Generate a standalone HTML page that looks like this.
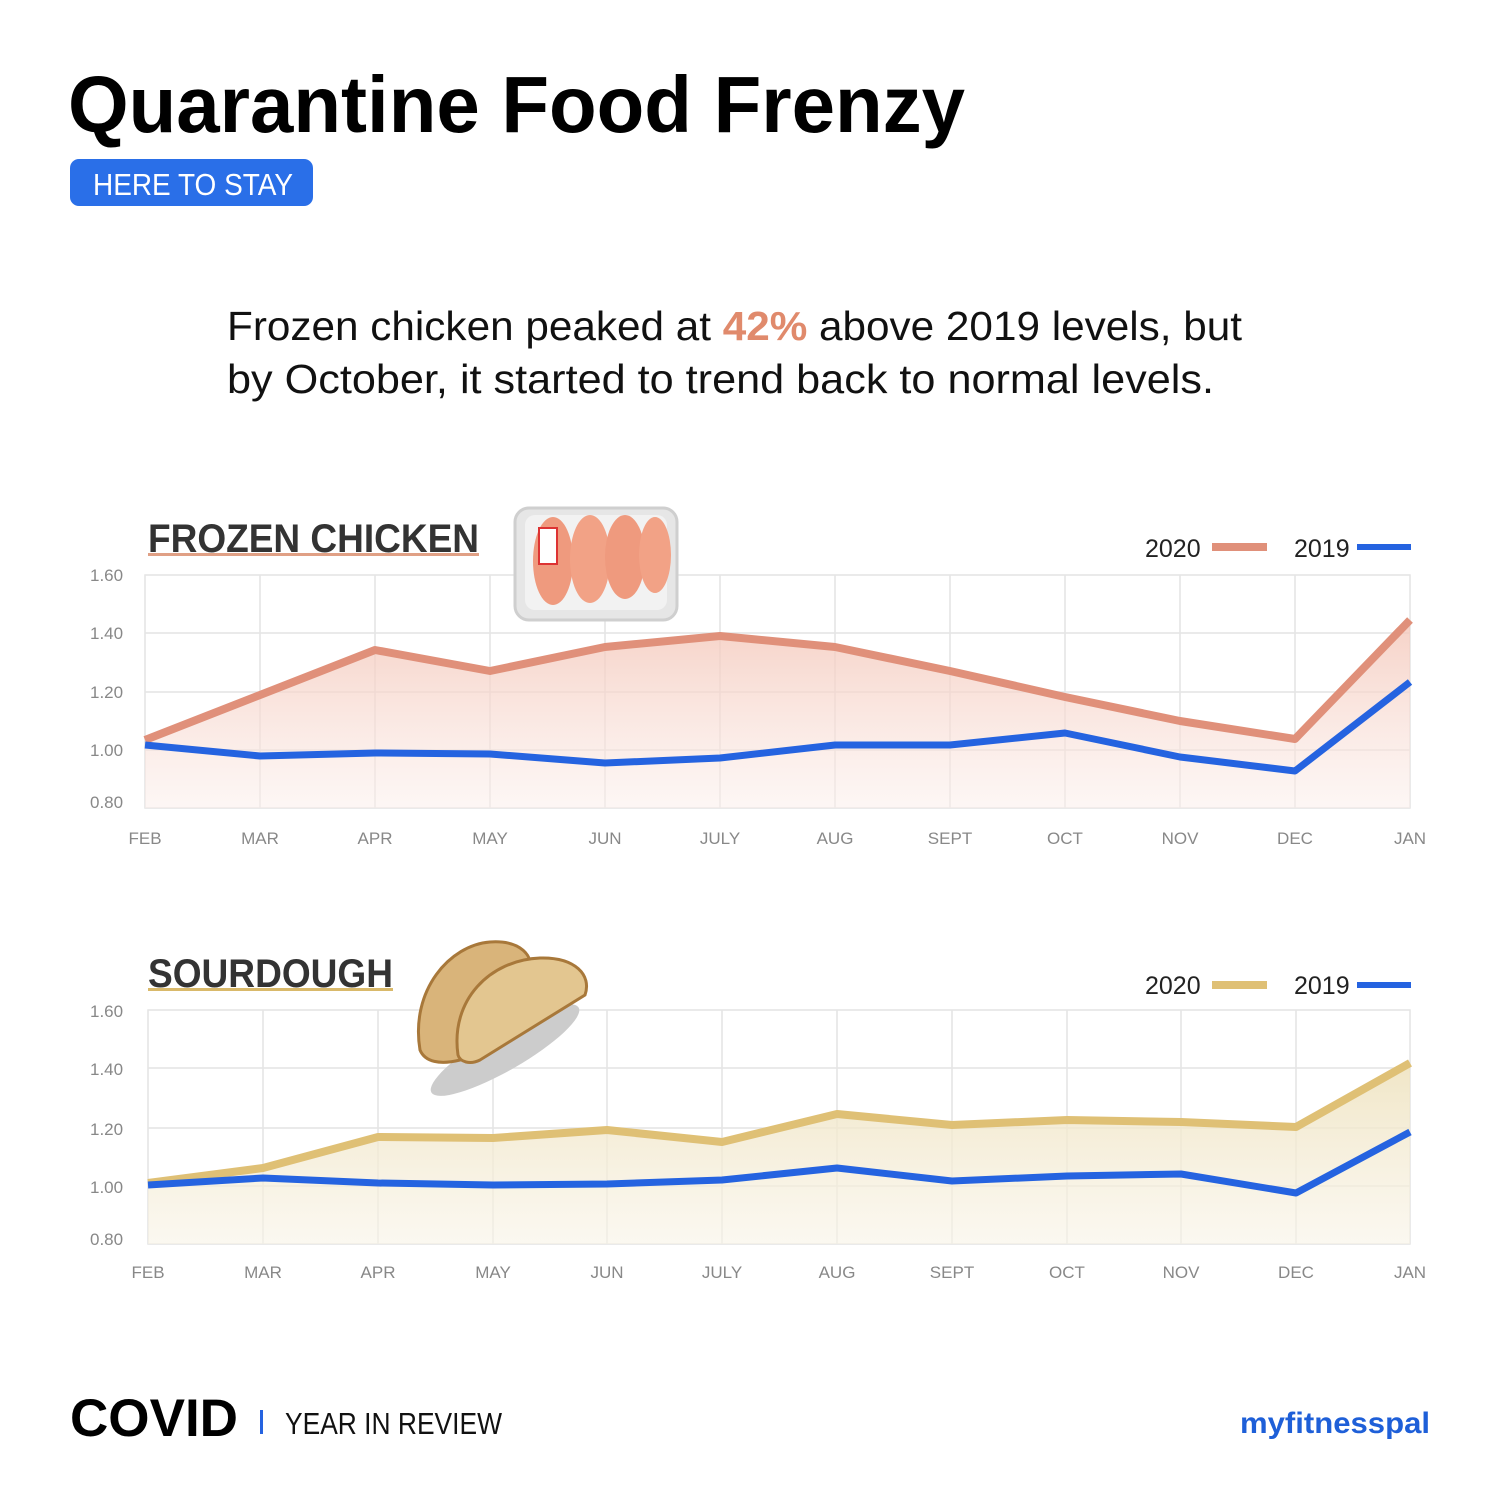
<!DOCTYPE html>
<html><head><meta charset="utf-8"><style>
html,body{margin:0;padding:0;background:#fff}
svg{display:block}
text{font-family:"Liberation Sans",sans-serif}
</style></head><body>
<svg width="1505" height="1505" viewBox="0 0 1505 1505" xmlns="http://www.w3.org/2000/svg">
<defs>
<linearGradient id="gc" x1="0" y1="0" x2="0" y2="1"><stop offset="0" stop-color="#f4c6b8" stop-opacity="0.8"/><stop offset="1" stop-color="#fbeeea" stop-opacity="0.5"/></linearGradient>
<linearGradient id="gs" x1="0" y1="0" x2="0" y2="1"><stop offset="0" stop-color="#efe3c0" stop-opacity="0.9"/><stop offset="1" stop-color="#f8f3e6" stop-opacity="0.6"/></linearGradient>
</defs>
<rect width="1505" height="1505" fill="#fff"/>
<text x="68" y="132" font-size="80" font-weight="bold" fill="#000" textLength="897" lengthAdjust="spacingAndGlyphs">Quarantine Food Frenzy</text>
<rect x="70" y="159" width="243" height="47" rx="9" fill="#2a6fe8"/>
<text x="93" y="195" font-size="31" fill="#fff" textLength="200" lengthAdjust="spacingAndGlyphs">HERE TO STAY</text>
<text x="227" y="340" font-size="41" fill="#111" textLength="1015" lengthAdjust="spacingAndGlyphs">Frozen chicken peaked at <tspan fill="#e08a6c" font-weight="bold">42%</tspan> above 2019 levels, but</text>
<text x="227" y="393" font-size="41" fill="#111" textLength="987" lengthAdjust="spacingAndGlyphs">by October, it started to trend back to normal levels.</text>

<!-- Chart 1 -->
<text x="148" y="552" font-size="40" font-weight="bold" fill="#333" textLength="331" lengthAdjust="spacingAndGlyphs">FROZEN CHICKEN</text>
<rect x="148" y="553" width="331" height="3" fill="#e0a085"/>
<g stroke="#e4e4e4" stroke-width="1.5" fill="none">
<rect x="145" y="575" width="1265" height="233"/>
<line x1="145" y1="633" x2="1410" y2="633"/><line x1="145" y1="692" x2="1410" y2="692"/><line x1="145" y1="750" x2="1410" y2="750"/>
<line x1="260" y1="575" x2="260" y2="808"/><line x1="375" y1="575" x2="375" y2="808"/><line x1="490" y1="575" x2="490" y2="808"/><line x1="605" y1="575" x2="605" y2="808"/><line x1="720" y1="575" x2="720" y2="808"/><line x1="835" y1="575" x2="835" y2="808"/><line x1="950" y1="575" x2="950" y2="808"/><line x1="1065" y1="575" x2="1065" y2="808"/><line x1="1180" y1="575" x2="1180" y2="808"/><line x1="1295" y1="575" x2="1295" y2="808"/>
</g>
<polygon fill="url(#gc)" points="145,740 260,695 375,650 490,671 605,647 720,636 835,647 950,671 1065,697 1180,721 1295,739 1410,620 1410,808 145,808"/>
<polyline fill="none" stroke="#e0907a" stroke-width="8" stroke-linejoin="round" points="145,740 260,695 375,650 490,671 605,647 720,636 835,647 950,671 1065,697 1180,721 1295,739 1410,620"/>
<polyline fill="none" stroke="#2563e0" stroke-width="7" stroke-linejoin="round" points="145,745 260,756 375,753 490,754 605,763 720,758 835,745 950,745 1065,733 1180,757 1295,771 1410,682"/>
<g font-size="17" fill="#888">
<text x="90" y="581">1.60</text><text x="90" y="639">1.40</text><text x="90" y="698">1.20</text><text x="90" y="756">1.00</text><text x="90" y="808">0.80</text>
</g>
<g font-size="17" fill="#888" text-anchor="middle">
<text x="145" y="844">FEB</text><text x="260" y="844">MAR</text><text x="375" y="844">APR</text><text x="490" y="844">MAY</text><text x="605" y="844">JUN</text><text x="720" y="844">JULY</text><text x="835" y="844">AUG</text><text x="950" y="844">SEPT</text><text x="1065" y="844">OCT</text><text x="1180" y="844">NOV</text><text x="1295" y="844">DEC</text><text x="1410" y="844">JAN</text>
</g>
<text x="1145" y="557" font-size="25" fill="#222">2020</text><rect x="1212" y="543" width="55" height="8" fill="#e0907a"/>
<text x="1294" y="557" font-size="25" fill="#222">2019</text><rect x="1357" y="544" width="54" height="6" fill="#2563e0"/>
<!-- tray -->
<g transform="translate(515,503)">
<rect x="0" y="5" width="162" height="112" rx="14" fill="#e6e6e6" stroke="#cfcfcf" stroke-width="3"/>
<rect x="10" y="12" width="142" height="95" rx="10" fill="#f2f2f2"/>
<ellipse cx="38" cy="58" rx="20" ry="44" fill="#ef9a7e"/>
<ellipse cx="75" cy="56" rx="20" ry="44" fill="#f2a286"/>
<ellipse cx="110" cy="54" rx="20" ry="42" fill="#ef9a7e"/>
<ellipse cx="140" cy="52" rx="16" ry="38" fill="#f2a286"/>
<rect x="24" y="25" width="18" height="36" fill="#fff" stroke="#d33" stroke-width="2"/>
</g>

<!-- Chart 2 -->
<text x="148" y="987" font-size="40" font-weight="bold" fill="#333" textLength="245" lengthAdjust="spacingAndGlyphs">SOURDOUGH</text>
<rect x="148" y="988" width="245" height="3" fill="#d9b96a"/>
<g stroke="#e4e4e4" stroke-width="1.5" fill="none">
<rect x="148" y="1010" width="1262" height="234"/>
<line x1="148" y1="1068" x2="1410" y2="1068"/><line x1="148" y1="1128" x2="1410" y2="1128"/><line x1="148" y1="1186" x2="1410" y2="1186"/>
<line x1="263" y1="1010" x2="263" y2="1244"/><line x1="378" y1="1010" x2="378" y2="1244"/><line x1="493" y1="1010" x2="493" y2="1244"/><line x1="607" y1="1010" x2="607" y2="1244"/><line x1="722" y1="1010" x2="722" y2="1244"/><line x1="837" y1="1010" x2="837" y2="1244"/><line x1="952" y1="1010" x2="952" y2="1244"/><line x1="1067" y1="1010" x2="1067" y2="1244"/><line x1="1181" y1="1010" x2="1181" y2="1244"/><line x1="1296" y1="1010" x2="1296" y2="1244"/>
</g>
<polygon fill="url(#gs)" points="148,1183 263,1168 378,1137 493,1138 607,1130 722,1142 837,1114 952,1125 1067,1120 1181,1122 1296,1127 1410,1063 1410,1244 148,1244"/>
<polyline fill="none" stroke="#dfc075" stroke-width="8" stroke-linejoin="round" points="148,1183 263,1168 378,1137 493,1138 607,1130 722,1142 837,1114 952,1125 1067,1120 1181,1122 1296,1127 1410,1063"/>
<polyline fill="none" stroke="#2563e0" stroke-width="7" stroke-linejoin="round" points="148,1185 263,1178 378,1183 493,1185 607,1184 722,1180 837,1168 952,1181 1067,1176 1181,1174 1296,1193 1410,1132"/>
<g font-size="17" fill="#888">
<text x="90" y="1017">1.60</text><text x="90" y="1075">1.40</text><text x="90" y="1135">1.20</text><text x="90" y="1193">1.00</text><text x="90" y="1245">0.80</text>
</g>
<g font-size="17" fill="#888" text-anchor="middle">
<text x="148" y="1278">FEB</text><text x="263" y="1278">MAR</text><text x="378" y="1278">APR</text><text x="493" y="1278">MAY</text><text x="607" y="1278">JUN</text><text x="722" y="1278">JULY</text><text x="837" y="1278">AUG</text><text x="952" y="1278">SEPT</text><text x="1067" y="1278">OCT</text><text x="1181" y="1278">NOV</text><text x="1296" y="1278">DEC</text><text x="1410" y="1278">JAN</text>
</g>
<text x="1145" y="994" font-size="25" fill="#222">2020</text><rect x="1212" y="981" width="55" height="8" fill="#dfc075"/>
<text x="1294" y="994" font-size="25" fill="#222">2019</text><rect x="1357" y="982" width="54" height="6" fill="#2563e0"/>
<!-- bread -->
<g>
<ellipse cx="505" cy="1050" rx="85" ry="20" fill="#ccc" transform="rotate(-30 505 1050)"/>
<path d="M420,1050 C410,990 450,945 490,942 C520,940 535,955 530,975 L460,1060 C440,1065 425,1062 420,1050Z" fill="#d9b47a" stroke="#a8783a" stroke-width="3"/>
<path d="M458,1055 C450,1000 490,960 540,958 C575,957 592,975 585,995 L480,1060 C470,1065 460,1062 458,1055Z" fill="#e3c690" stroke="#a8783a" stroke-width="3"/>
</g>

<!-- footer -->
<text x="70" y="1436" font-size="53" font-weight="bold" fill="#000" textLength="168" lengthAdjust="spacingAndGlyphs">COVID</text>
<rect x="260" y="1410" width="3" height="24" fill="#2563e0"/>
<text x="285" y="1434" font-size="31" fill="#111" textLength="217" lengthAdjust="spacingAndGlyphs">YEAR IN REVIEW</text>
<text x="1240" y="1433" font-size="30" font-weight="bold" fill="#1e5fd8" textLength="190" lengthAdjust="spacingAndGlyphs">myfitnesspal</text>
</svg>
</body></html>
